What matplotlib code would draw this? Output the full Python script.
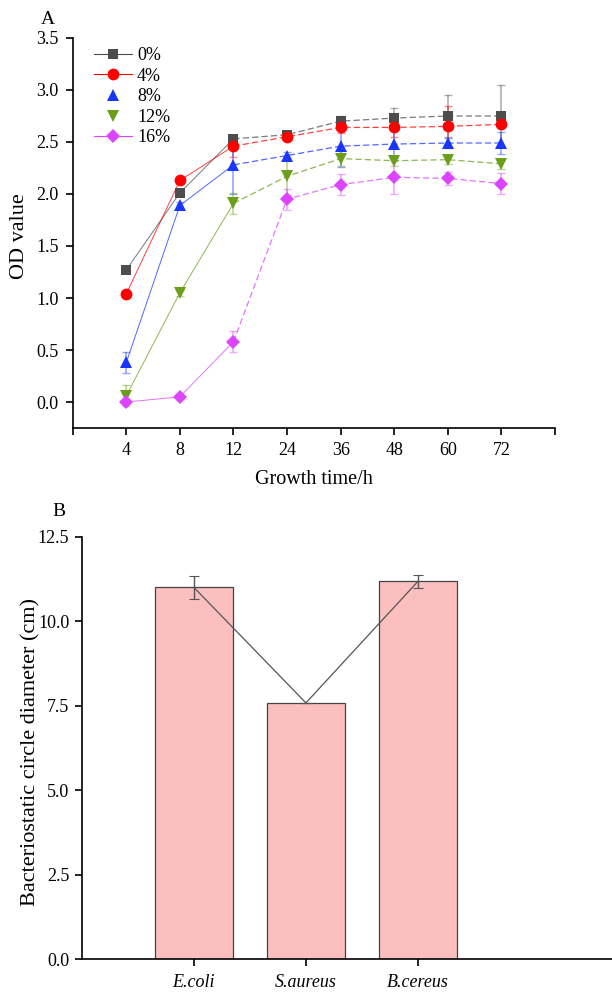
import matplotlib
matplotlib.use("Agg")
import matplotlib.pyplot as plt
from matplotlib.lines import Line2D
import numpy as np

plt.rcParams['font.family'] = ['Liberation Serif', 'DejaVu Serif']

# ---------------- data ----------------
time_labels = ['4', '8', '12', '24', '36', '48', '60', '72']
series_names = ['0%', '4%', '8%', '12%', '16%']
od_0 = [1.27, 2.01, 2.53, 2.57, 2.70, 2.73, 2.75, 2.75]
od_4 = [1.04, 2.13, 2.46, 2.55, 2.64, 2.64, 2.65, 2.67]
od_8 = [0.38, 1.89, 2.28, 2.37, 2.46, 2.48, 2.49, 2.49]
od_12 = [0.06, 1.05, 1.91, 2.17, 2.34, 2.32, 2.33, 2.29]
od_16 = [0.00, 0.05, 0.58, 1.95, 2.09, 2.16, 2.15, 2.10]
err_0 = [0.02, 0.03, 0.03, 0.02, 0.05, 0.10, 0.20, 0.30]
err_4 = [0.02, 0.03, 0.10, 0.02, 0.05, 0.09, 0.20, 0.03]
err_8 = [0.10, 0.03, 0.28, 0.03, 0.20, 0.13, 0.05, 0.11]
err_12 = [0.10, 0.03, 0.10, 0.18, 0.07, 0.05, 0.04, 0.05]
err_16 = [0.02, 0.02, 0.10, 0.10, 0.10, 0.16, 0.06, 0.10]

bacteria = ['E.coli', 'S.aureus', 'B.cereus']
diameter = [11.0, 7.58, 11.18]
diameter_err = [0.34, 0.0, 0.20]

# ---------------- style ----------------
colors = ['#4d4d4d', '#ff0000', '#1a35ff', '#6b9e1a', '#dd44ff']
markers = ['s', 'o', '^', 'v', 'D']
msizes = [7, 8.5, 8, 8, 7]
legend_lines = [True, True, False, False, True]

fig = plt.figure(figsize=(6.12, 9.94), dpi=100)

# ---------------- panel A ----------------
ax1 = fig.add_axes([0.1188, 0.5694, 0.7880, 0.3924])
x = np.arange(len(time_labels))
all_od = [od_0, od_4, od_8, od_12, od_16]
all_err = [err_0, err_4, err_8, err_12, err_16]
for vals, errs, c, m, ms in zip(all_od, all_err, colors, markers, msizes):
    vals = np.array(vals)
    ax1.errorbar(x, vals, yerr=errs, fmt='none', ecolor=c, alpha=0.45,
                 elinewidth=1.2, capsize=3, capthick=1.0, zorder=2)
    ax1.plot(x[:3], vals[:3], '-', color=c, lw=0.7, alpha=0.75, zorder=3)
    ax1.plot(x[2:], vals[2:], color=c, lw=0.9, alpha=0.75, dashes=(5, 2.5), zorder=3)
    ax1.plot(x, vals, linestyle='none', marker=m, markersize=ms, color=c,
             markeredgewidth=0, zorder=4)

ax1.set_xlim(-1, 8)
ax1.set_ylim(-0.25, 3.5)
ax1.set_xticks(np.arange(-1, 9))
ax1.set_xticklabels([''] + time_labels + [''])
ax1.set_yticks(np.arange(0, 3.51, 0.5))
ax1.set_yticklabels([f'{v:.1f}' for v in np.arange(0, 3.51, 0.5)])
for s in ['top', 'right']:
    ax1.spines[s].set_visible(False)
for s in ['left', 'bottom']:
    ax1.spines[s].set_linewidth(1.2)
ax1.tick_params(axis='both', direction='out', length=5, width=1.2, labelsize=13)
ax1.tick_params(axis='x', pad=5)
ax1.tick_params(axis='y', pad=5)
ax1.set_xlabel('Growth time/h', fontsize=14.5, labelpad=8)
ax1.set_ylabel('OD value', fontsize=16)
ax1.yaxis.set_label_coords(-0.0906, 0.492)

handles = []
for name, c, m, ms, ln in zip(series_names, colors, markers, msizes, legend_lines):
    handles.append(Line2D([0], [0], color=c, lw=0.8 if ln else 0, marker=m,
                          markersize=ms, markeredgewidth=0, label=name))
ax1.legend(handles=handles, loc='upper left', bbox_to_anchor=(0.025, 1.0),
           frameon=False, fontsize=13, handlelength=2.1, handletextpad=0.3,
           labelspacing=0.2, borderaxespad=0.1)

fig.text(48 / 612, 1 - 20 / 994, 'A', fontsize=14, ha='center', va='center')

# ---------------- panel B ----------------
ax2 = fig.add_axes([0.1335, 0.0352, 0.8665, 0.4249])
xb = np.arange(len(bacteria))
ax2.bar(xb, diameter, width=0.7, color='#fbbfbf', edgecolor='#444444',
        linewidth=0.9, zorder=2)
ax2.errorbar(xb, diameter, yerr=diameter_err, fmt='none', ecolor='#555555',
             elinewidth=1.0, capsize=3.5, capthick=0.8, zorder=3)
ax2.plot(xb, diameter, '-', color='#555555', lw=0.9, zorder=4)
ax2.set_xlim(-1, 3.73)
ax2.set_ylim(0, 12.5)
ax2.set_xticks(xb)
ax2.set_xticklabels(bacteria, fontstyle='italic')
ax2.set_yticks(np.arange(0, 12.51, 2.5))
ax2.set_yticklabels([f'{v:.1f}' for v in np.arange(0, 12.51, 2.5)])
for s in ['top', 'right']:
    ax2.spines[s].set_visible(False)
for s in ['left', 'bottom']:
    ax2.spines[s].set_linewidth(1.2)
ax2.tick_params(axis='both', direction='out', length=5, width=1.2, labelsize=13)
ax2.tick_params(axis='x', pad=6)
ax2.tick_params(axis='y', pad=4)
ax2.set_ylabel('Bacteriostatic circle diameter (cm)', fontsize=16)
ax2.yaxis.set_label_coords(-0.0786, 0.49)

fig.text(59 / 612, 1 - 511 / 994, 'B', fontsize=14, ha='center', va='center')

fig.savefig('out.png', dpi=100)
